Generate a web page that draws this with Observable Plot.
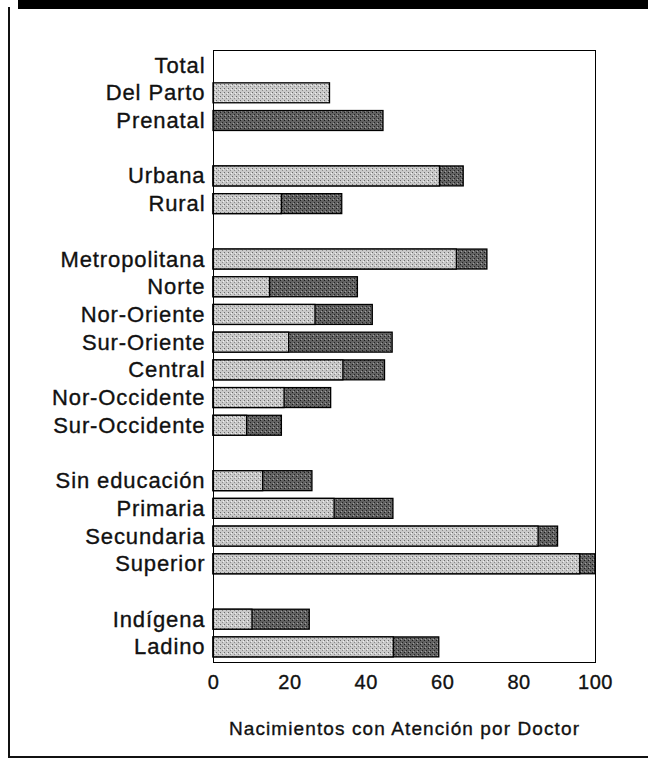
<!DOCTYPE html>
<html>
<head>
<meta charset="utf-8">
<script src="https://cdn.jsdelivr.net/npm/d3@7"></script>
<script src="https://cdn.jsdelivr.net/npm/@observablehq/plot@0.6"></script>
<style>
  html, body { margin: 0; padding: 0; background: #fff; }
  #wrap { position: relative; width: 648px; height: 759px; overflow: hidden; background: #fff; }
  #wrap svg { position: absolute; left: 0; top: 0; }
  .topbar { position: absolute; left: 18px; top: 0; width: 630px; height: 9px; background: #000; }
  .leftline { position: absolute; left: 8px; top: 7px; width: 2px; height: 751px; background: #111; }
  .bottomline { position: absolute; left: 8px; top: 756px; width: 640px; height: 2px; background: #111; }
  g[aria-label^="y-axis"] { font-size: 22px; letter-spacing: 0.9px; }
  g[aria-label^="y-axis"] text, g[aria-label^="x-axis"] text, g[aria-label="text"] text { stroke: #111; stroke-width: 0.35px; }
  g[aria-label^="x-axis"] { font-size: 20px; letter-spacing: 0.6px; }
  g[aria-label="text"] { letter-spacing: 1.1px; }
</style>
</head>
<body>
<div id="wrap"></div>
<script>
const categories = ["Total", "Del Parto", "Prenatal", " ",
  "Urbana", "Rural", "  ",
  "Metropolitana", "Norte", "Nor-Oriente", "Sur-Oriente", "Central", "Nor-Occidente", "Sur-Occidente", "   ",
  "Sin educación", "Primaria", "Secundaria", "Superior", "    ",
  "Indígena", "Ladino"];
// light bars: attention at delivery by a doctor
const parto = [null, 30.5, null, null,
  59.3, 17.9, null,
  63.7, 14.8, 26.7, 19.8, 34.0, 18.6, 8.8, null,
  13.0, 31.7, 85.1, 96.0, null,
  10.2, 47.2];
// dark bars: prenatal attention by a doctor
const prenatal = [null, null, 44.5, null,
  65.5, 33.7, null,
  71.7, 37.8, 41.7, 46.9, 44.9, 30.8, 17.9, null,
  25.9, 47.1, 90.2, 100, null,
  25.2, 59.1];
const xTicks = [0, 20, 40, 60, 80, 100];
const axisTitle = "Nacimientos con Atención por Doctor";

const rows = categories.map((c, i) => ({cat: c, parto: parto[i], prenatal: prenatal[i]}));
const darkRows = rows.filter(d => d.prenatal != null);
const lightRows = rows.filter(d => d.parto != null);

const chart = Plot.plot({
  width: 648,
  height: 759,
  marginLeft: 213,
  marginRight: 53,
  marginTop: 50,
  marginBottom: 97,
  style: {fontFamily: "'Liberation Sans', Arial, sans-serif", fontSize: "20px", color: "#111", background: "transparent"},
  x: {domain: [0, 100], ticks: xTicks, tickSize: 0, tickPadding: 12, label: null},
  y: {domain: categories, paddingInner: 0.28, paddingOuter: 0.185, round: false, tickSize: 0, tickPadding: 8, label: null},
  marks: [
    Plot.barX(darkRows, {y: "cat", x1: 0, x2: "prenatal", fill: "url(#darkPat)", stroke: "#000", strokeWidth: 1.3}),
    Plot.barX(lightRows, {y: "cat", x1: 0, x2: "parto", fill: "url(#lightPat)", stroke: "#000", strokeWidth: 1.3}),
    Plot.frame({stroke: "#000", strokeWidth: 1}),
    Plot.text([axisTitle], {frameAnchor: "bottom", dy: 66, lineAnchor: "middle", fontSize: 19, fill: "#111"})
  ]
});

// halftone-like textures for the two bar shades
const svg = d3.select(chart);
const defs = svg.insert("defs", ":first-child");
const lp = defs.append("pattern").attr("id", "lightPat").attr("patternUnits", "userSpaceOnUse")
  .attr("width", 4).attr("height", 4);
lp.append("rect").attr("width", 4).attr("height", 4).attr("fill", "#c9c9c9");
lp.append("rect").attr("x", 0).attr("y", 0).attr("width", 1).attr("height", 1).attr("fill", "#6a6a6a");
lp.append("rect").attr("x", 2).attr("y", 2).attr("width", 1).attr("height", 1).attr("fill", "#8a8a8a");
lp.append("rect").attr("x", 3).attr("y", 1).attr("width", 1).attr("height", 1).attr("fill", "#f0f0f0");
const dp = defs.append("pattern").attr("id", "darkPat").attr("patternUnits", "userSpaceOnUse")
  .attr("width", 4).attr("height", 4);
dp.append("rect").attr("width", 4).attr("height", 4).attr("fill", "#626262");
dp.append("rect").attr("x", 0).attr("y", 0).attr("width", 1).attr("height", 1).attr("fill", "#1a1a1a");
dp.append("rect").attr("x", 2).attr("y", 2).attr("width", 1).attr("height", 1).attr("fill", "#222");
dp.append("rect").attr("x", 1).attr("y", 3).attr("width", 1).attr("height", 1).attr("fill", "#a0a0a0");

const wrap = document.getElementById("wrap");
wrap.appendChild(chart);
["topbar", "leftline", "bottomline"].forEach(c => {
  const d = document.createElement("div");
  d.className = c;
  wrap.appendChild(d);
});
</script>
</body>
</html>
